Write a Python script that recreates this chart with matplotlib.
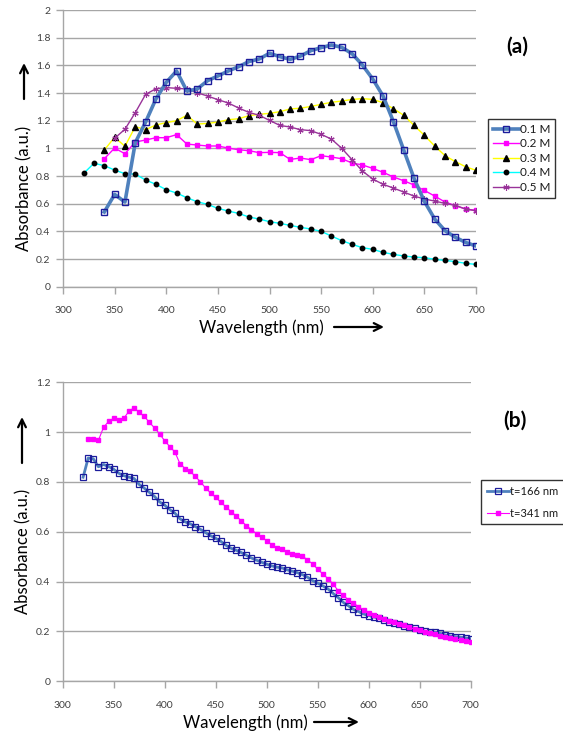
import matplotlib
matplotlib.use("Agg")
import matplotlib.pyplot as plt

# ---------------- data (a) ----------------
wl_01 = list(range(340, 701, 10))
abs_01 = [0.54, 0.667, 0.612, 1.041, 1.19, 1.357, 1.477, 1.559, 1.414, 1.429,
          1.489, 1.523, 1.559, 1.59, 1.627, 1.646, 1.687, 1.663, 1.643, 1.667,
          1.706, 1.728, 1.747, 1.73, 1.684, 1.602, 1.501, 1.378, 1.193, 0.988,
          0.783, 0.617, 0.489, 0.405, 0.357, 0.320, 0.294]
wl_02 = list(range(340, 701, 10))
abs_02 = [0.925, 1.002, 0.961, 1.046, 1.06, 1.077, 1.077, 1.099, 1.031, 1.024,
          1.017, 1.017, 1.002, 0.99, 0.983, 0.969, 0.971, 0.969, 0.92, 0.93,
          0.918, 0.947, 0.937, 0.925, 0.894, 0.88, 0.855, 0.827, 0.793, 0.766,
          0.735, 0.696, 0.655, 0.612, 0.586, 0.561, 0.552]
wl_03 = list(range(340, 701, 10))
abs_03 = [0.988, 1.08, 1.015, 1.157, 1.135, 1.169, 1.186, 1.2, 1.239, 1.176,
          1.18, 1.19, 1.207, 1.214, 1.236, 1.246, 1.253, 1.265, 1.285, 1.29,
          1.303, 1.318, 1.333, 1.342, 1.354, 1.359, 1.354, 1.33, 1.287, 1.239,
          1.166, 1.094, 1.017, 0.947, 0.904, 0.867, 0.841]
wl_04 = list(range(320, 701, 10))
abs_04 = [0.819, 0.892, 0.875, 0.843, 0.817, 0.814, 0.771, 0.74, 0.701, 0.677,
          0.643, 0.614, 0.595, 0.566, 0.547, 0.53, 0.504, 0.489, 0.47, 0.458,
          0.443, 0.429, 0.417, 0.4, 0.366, 0.333, 0.306, 0.282, 0.27, 0.248,
          0.234, 0.222, 0.214, 0.21, 0.198, 0.19, 0.181, 0.169, 0.161]
wl_05 = list(range(350, 701, 10))
abs_05 = [1.073, 1.138, 1.258, 1.39, 1.431, 1.439, 1.434, 1.429, 1.402, 1.378,
          1.352, 1.328, 1.292, 1.26, 1.239, 1.202, 1.166, 1.154, 1.135, 1.128,
          1.101, 1.067, 1.0, 0.918, 0.836, 0.778, 0.74, 0.713, 0.684, 0.655,
          0.634, 0.619, 0.602, 0.588, 0.561, 0.549]
labels_a = ["0.1 M", "0.2 M", "0.3 M", "0.4 M", "0.5 M"]

# ---------------- data (b) ----------------
wl_166 = list(range(320, 701, 5))
abs_166 = [0.819, 0.896, 0.893, 0.861, 0.870, 0.862, 0.851, 0.835, 0.825, 0.819,
           0.814, 0.790, 0.775, 0.758, 0.742, 0.720, 0.707, 0.689, 0.675, 0.652,
           0.640, 0.632, 0.621, 0.610, 0.597, 0.584, 0.574, 0.562, 0.546, 0.534,
           0.526, 0.517, 0.506, 0.495, 0.486, 0.478, 0.470, 0.463, 0.458,
           0.455, 0.447, 0.442, 0.436, 0.428, 0.418, 0.404, 0.394, 0.383, 0.371,
           0.353, 0.336, 0.317, 0.303, 0.289, 0.280, 0.270, 0.264, 0.258, 0.253,
           0.246, 0.240, 0.233, 0.228, 0.222, 0.217, 0.212, 0.206, 0.201, 0.198,
           0.197, 0.193, 0.186, 0.182, 0.179, 0.177, 0.174, 0.171]
wl_341 = list(range(325, 701, 5))
abs_341 = [0.973, 0.973, 0.967, 1.019, 1.043, 1.056, 1.050, 1.056, 1.084, 1.098,
           1.079, 1.063, 1.039, 1.017, 0.993, 0.965, 0.942, 0.920, 0.873, 0.854,
           0.843, 0.822, 0.801, 0.776, 0.756, 0.738, 0.719, 0.700, 0.681, 0.664,
           0.644, 0.625, 0.609, 0.592, 0.578, 0.564, 0.548, 0.533,
           0.531, 0.519, 0.510, 0.506, 0.503, 0.487, 0.471, 0.450, 0.431, 0.412,
           0.391, 0.364, 0.345, 0.327, 0.313, 0.300, 0.286, 0.276, 0.266, 0.260,
           0.249, 0.244, 0.237, 0.230, 0.224, 0.217, 0.209, 0.205, 0.198, 0.193,
           0.189, 0.183, 0.179, 0.175, 0.170, 0.166, 0.163, 0.159]
labels_b = ["t=166 nm", "t=341 nm"]

xticks = [300, 350, 400, 450, 500, 550, 600, 650, 700]
yticks_a = [0, 0.2, 0.4, 0.6, 0.8, 1.0, 1.2, 1.4, 1.6, 1.8, 2.0]
yticks_b = [0, 0.2, 0.4, 0.6, 0.8, 1.0, 1.2]

FONT = "Lato"
plt.rcParams["font.family"] = [FONT, "DejaVu Sans"]

W, H = 563, 734
fig = plt.figure(figsize=(W / 100, H / 100), dpi=100)


def fx(px):
    return px / W


def fy(py):
    return 1 - py / H


def arrow(ax, x0, y0, x1, y1):
    ax.annotate("", xy=(fx(x1), fy(y1)), xytext=(fx(x0), fy(y0)),
                xycoords="figure fraction", textcoords="figure fraction",
                annotation_clip=False,
                arrowprops=dict(arrowstyle="->", lw=1.6, color="black",
                                mutation_scale=14, shrinkA=0, shrinkB=0))


def style_axes(ax, yticks):
    ax.set_xlim(300, 700)
    ax.set_ylim(yticks[0], yticks[-1])
    ax.set_xticks(xticks)
    ax.set_yticks(yticks)
    ax.set_yticklabels([("%g" % v) for v in yticks])
    ax.set_xticklabels([str(v) for v in xticks])
    ax.grid(axis="y", color="#a6a6a6", linewidth=1.0)
    ax.set_axisbelow(True)
    for s in ["top", "right"]:
        ax.spines[s].set_visible(False)
    for s in ["left", "bottom"]:
        ax.spines[s].set_color("#a6a6a6")
        ax.spines[s].set_linewidth(1.0)
    ax.tick_params(axis="both", colors="#a6a6a6", labelcolor="#404040",
                   labelsize=7.5, length=5, width=1.0, direction="out")
    ax.tick_params(axis="x", pad=9)
    ax.tick_params(axis="y", pad=4)


# ---------------- (a) ----------------
ax1 = fig.add_axes([fx(63), fy(286.7), fx(476) - fx(63), fy(10) - fy(286.7)])
style_axes(ax1, yticks_a)
ax1.plot(wl_01, abs_01, color="#4f81bd", lw=2.6, marker="s", ms=5,
         mfc="none", mec="#1c1c9c", mew=1.0, label=labels_a[0], zorder=6)
ax1.plot(wl_02, abs_02, color="#ff00ff", lw=1.0, marker="s", ms=3.2,
         mfc="#ff00ff", mec="#ff00ff", label=labels_a[1], zorder=4)
ax1.plot(wl_03, abs_03, color="#ffff00", lw=1.0, marker="^", ms=3.8,
         mfc="black", mec="black", label=labels_a[2], zorder=3)
ax1.plot(wl_04, abs_04, color="#00ffff", lw=1.0, marker="o", ms=3.2,
         mfc="black", mec="black", label=labels_a[3], zorder=3)
ax1.plot(wl_05, abs_05, color="#993399", lw=1.0, marker=(6, 2, 0), ms=4.5,
         mfc="#993399", mec="#993399", mew=0.8, label=labels_a[4], zorder=5)

leg1 = ax1.legend(loc="upper left", bbox_to_anchor=(fx(488), fy(119)),
                  bbox_transform=fig.transFigure, fontsize=8.5, frameon=True,
                  fancybox=False, edgecolor="black", handlelength=2.2,
                  handletextpad=0.1, labelspacing=0.3, borderpad=0.4,
                  borderaxespad=0)
leg1.get_frame().set_linewidth(1.0)
for t in leg1.get_texts():
    t.set_color("#1a1a1a")

fig.text(fx(517), fy(47), "(a)", fontsize=15, fontweight="bold",
         ha="center", va="center", color="black")
fig.text(fx(24), fy(188), "Absorbance (a.u.)", fontsize=12, rotation=90,
         ha="center", va="center", color="black")
arrow(ax1, 24, 99, 24, 63)
fig.text(fx(261), fy(328), "Wavelength (nm)", fontsize=12,
         ha="center", va="center", color="black")
arrow(ax1, 334, 327, 384, 327)

# ---------------- (b) ----------------
ax2 = fig.add_axes([fx(62.7), fy(681.3), fx(470.7) - fx(62.7), fy(382.3) - fy(681.3)])
style_axes(ax2, yticks_b)
ax2.plot(wl_166, abs_166, color="#4f81bd", lw=2.0, marker="s", ms=4.2,
         mfc="none", mec="#1c1c9c", mew=0.9, label=labels_b[0], zorder=4)
ax2.plot(wl_341, abs_341, color="#ff00ff", lw=0.8, marker="s", ms=2.8,
         mfc="#ff00ff", mec="#ff00ff", label=labels_b[1], zorder=5)

leg2 = ax2.legend(loc="upper left", bbox_to_anchor=(fx(481), fy(480)),
                  bbox_transform=fig.transFigure, fontsize=8, frameon=True,
                  fancybox=False, edgecolor="black", handlelength=2.0,
                  handletextpad=0.1, labelspacing=1.0, borderpad=0.5,
                  borderaxespad=0)
leg2.get_frame().set_linewidth(1.0)
for t in leg2.get_texts():
    t.set_color("#1a1a1a")

fig.text(fx(515), fy(421), "(b)", fontsize=15, fontweight="bold",
         ha="center", va="center", color="black")
fig.text(fx(23), fy(551), "Absorbance (a.u.)", fontsize=12, rotation=90,
         ha="center", va="center", color="black")
arrow(ax2, 22, 463, 22, 417)
fig.text(fx(245), fy(723), "Wavelength (nm)", fontsize=12,
         ha="center", va="center", color="black")
arrow(ax2, 314, 722, 359, 722)

fig.savefig("out.png", dpi=100, facecolor="white")
